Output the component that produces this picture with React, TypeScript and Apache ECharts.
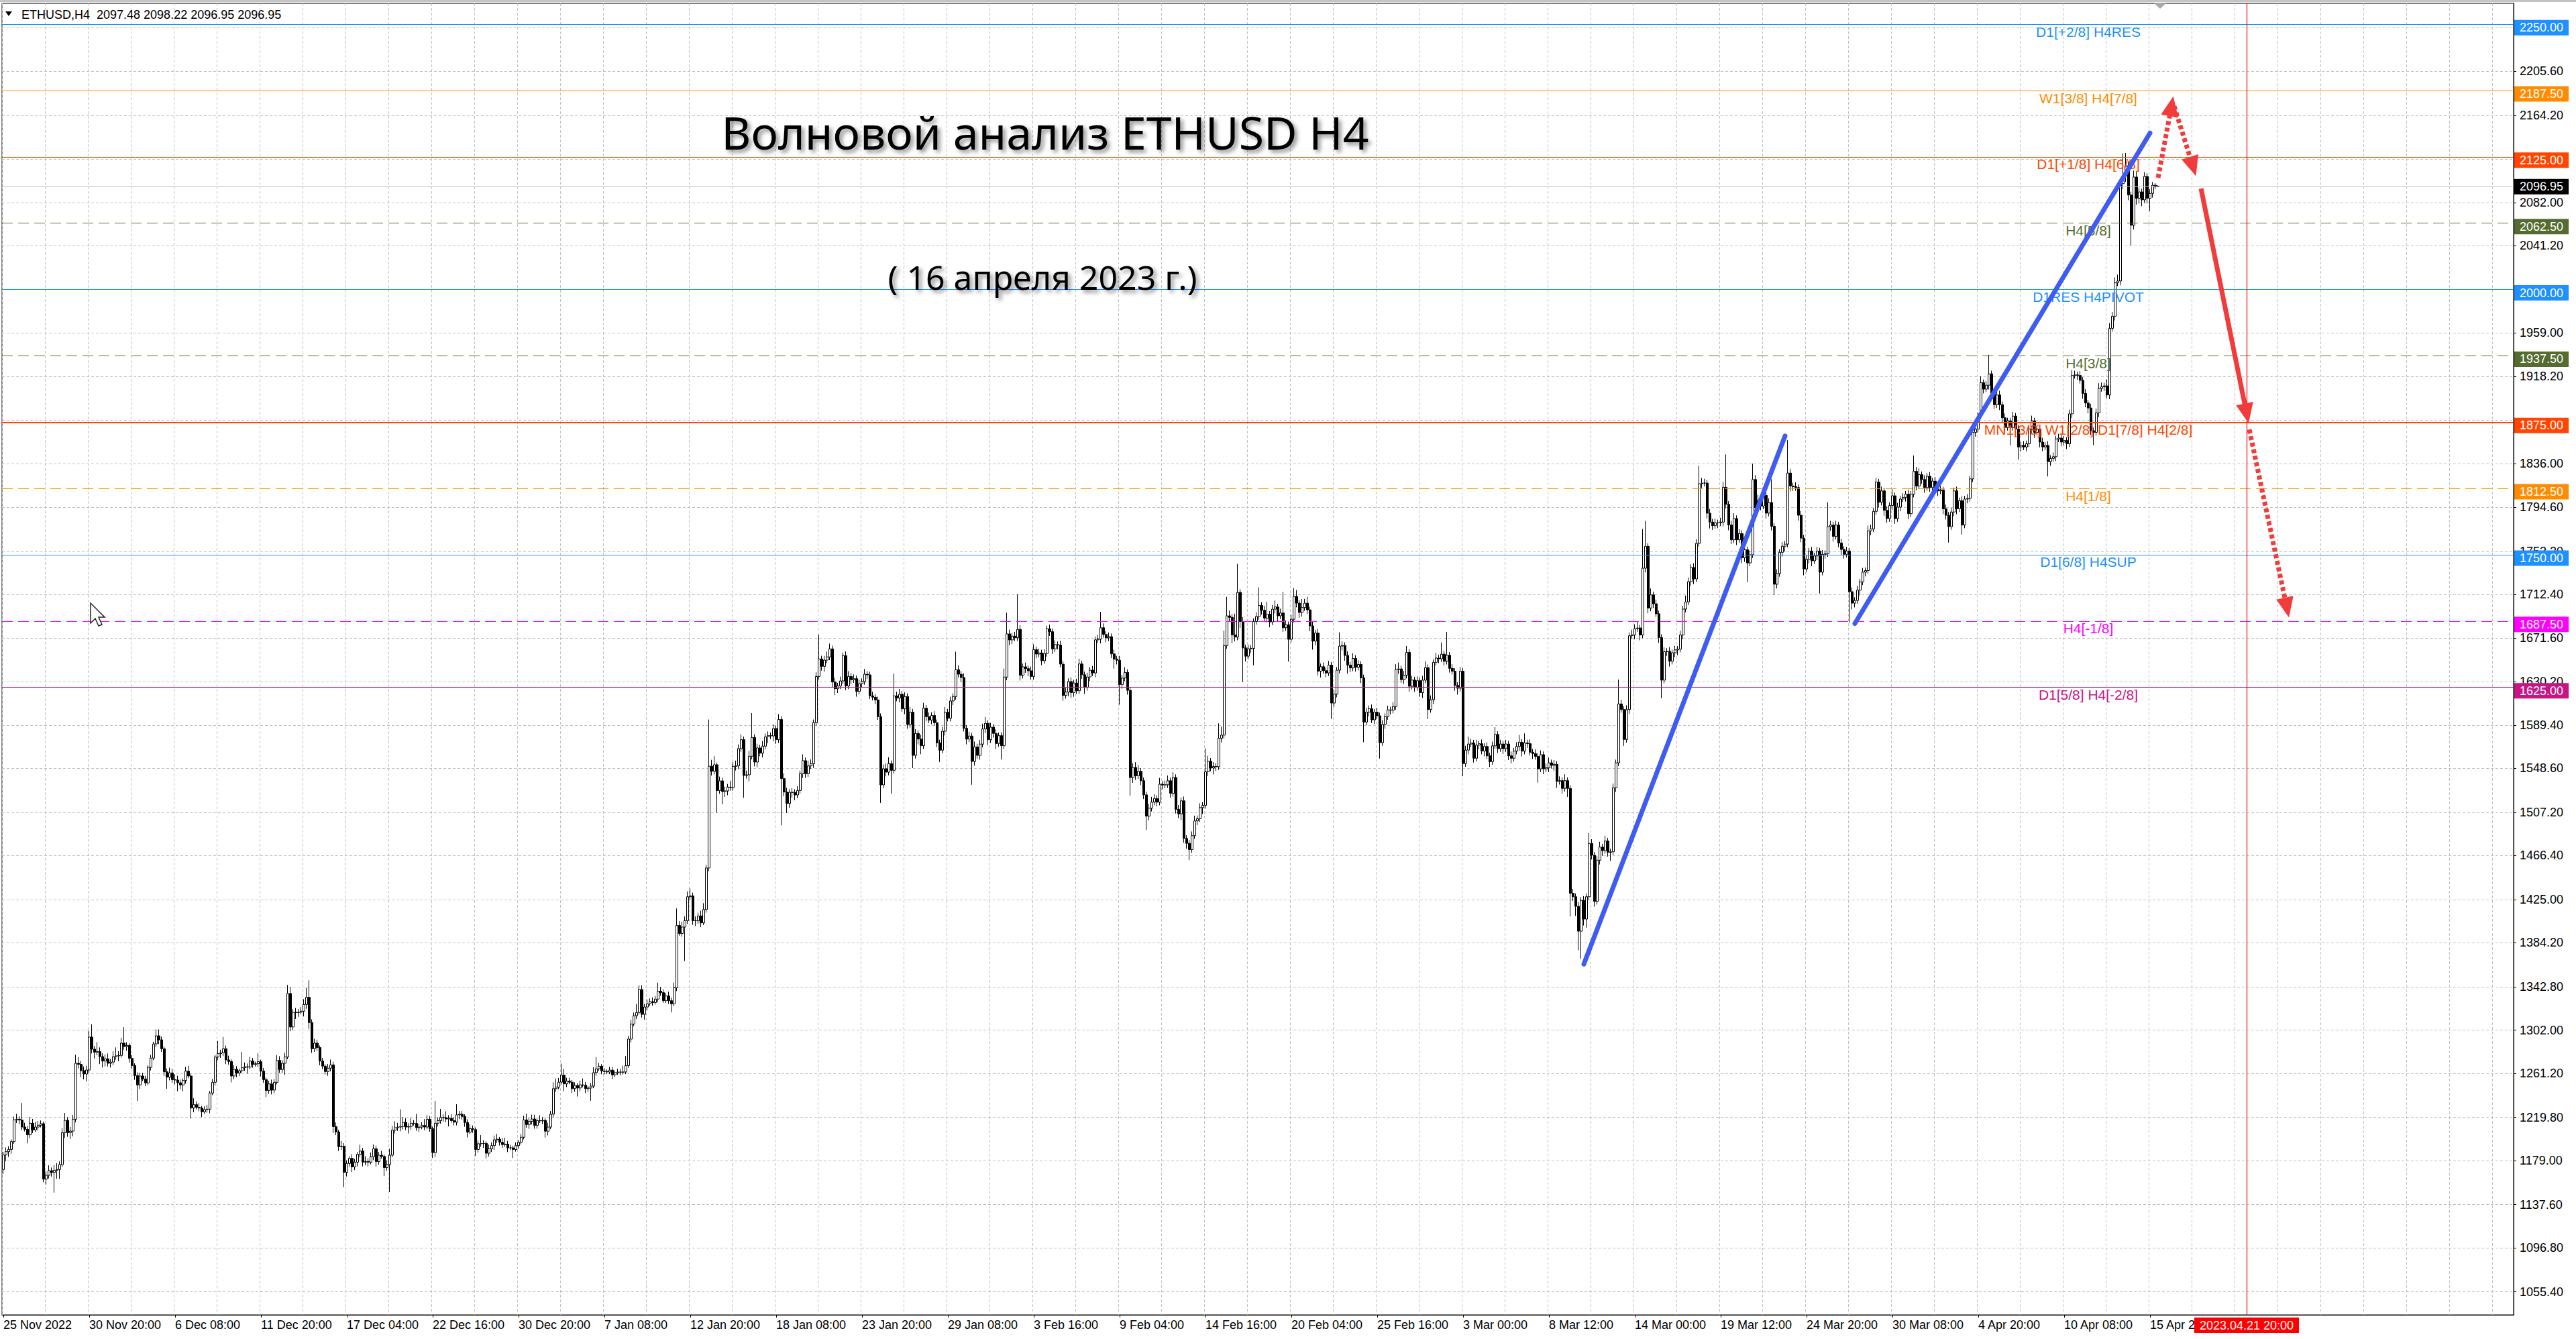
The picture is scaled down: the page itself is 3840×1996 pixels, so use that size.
import React, { useEffect, useRef } from "react";
import * as echarts from "echarts";

const FONT = '"Liberation Sans", Arial, sans-serif';
const TITLE_FONT = '"Noto Sans", "DejaVu Sans", sans-serif';

// ---------- time axis labels (one every 32 H4 bars) ----------
const timeLabels = [
  "25 Nov 2022", "30 Nov 20:00", "6 Dec 08:00", "11 Dec 20:00", "17 Dec 04:00", "22 Dec 16:00",
  "30 Dec 20:00", "7 Jan 08:00", "12 Jan 20:00", "18 Jan 08:00", "23 Jan 20:00", "29 Jan 08:00",
  "3 Feb 16:00", "9 Feb 04:00", "14 Feb 16:00", "20 Feb 04:00", "25 Feb 16:00", "3 Mar 00:00",
  "8 Mar 12:00", "14 Mar 00:00", "19 Mar 12:00", "24 Mar 20:00", "30 Mar 08:00", "4 Apr 20:00",
  "10 Apr 08:00", "15 Apr 20:00",
];
const barsPerLabel = 32;
const futureBars = 132;

// ---------- price ticks on the right scale ----------
const yGridValues = [
  1055.4, 1096.8, 1137.6, 1179.0, 1219.8, 1261.2, 1302.0, 1342.8, 1384.2, 1425.0, 1466.4, 1507.2,
  1548.6, 1589.4, 1630.2, 1671.6, 1712.4, 1753.2, 1794.6, 1836.0, 1877.1, 1918.2, 1959.0, 2000.1,
  2041.2, 2082.0, 2123.1, 2164.2, 2205.6, 2246.7,
];
const yHiddenLabels = [1877.1, 2000.1, 2123.1, 2246.7];
const yMin = 1033.6;
const yMax = 2269.7;

// ---------- ETHUSD H4 candles: [close, upper wick, lower wick]; open = previous close ----------
const firstOpen = 1170.6;
const segA = [
  [1184.3,3,4],[1187.4,4,6],[1189.5,3,5],[1196.9,2,4],[1217.4,3,2],[1218,5,3],[1217.2,3,4],[1210.6,16,3],
  [1208.5,4,2],[1203.3,3,8],[1214.2,6,3],[1207.9,4,3],[1210.6,5,2],[1212.3,4,3],[1213.8,3,2],[1161.5,2,3],
  [1165.1,4,5],[1169.5,5,3],[1167.8,3,4],[1169.9,5,19],[1170.6,6,8],[1175.2,3,9],[1205.4,4,2],[1216.9,7,5],
  [1205.4,3,4],[1206.8,4,6],[1218,4,5],[1270.7,8,3],[1269.7,6,4],[1263.7,3,6],[1260.6,4,5],[1264.4,4,7],
  [1295.4,6,3],[1284,12,4],[1281.2,3,6],[1281.7,9,3],[1277,4,7],[1272.8,3,6],[1274.9,4,5],[1270.7,5,3],
  [1271.8,3,4],[1277,5,3],[1277.7,8,3],[1278.1,4,5],[1289.7,5,2],[1286.5,15,3],[1287.6,3,4],[1275.3,2,4],
  [1268.6,3,3],[1259.1,2,4],[1250.3,3,15],[1258.7,3,4],[1255.9,3,2],[1252.2,3,3],[1266.9,2,2],[1275.6,3,3],
  [1289,2,2],[1296.6,6,3],[1292.8,6,4],[1284.4,3,3],[1262.7,2,4],[1257.6,3,11],[1261.6,5,3],[1255.3,4,3],
  [1254.9,5,4],[1252.4,4,8],[1250.3,3,4],[1254.5,2,6],[1263.3,4,3],[1258.7,5,2],[1228.5,2,10],[1231.7,6,4],
  [1229.2,3,2],[1228.5,4,3],[1225,2,5],[1227.1,3,2],[1227.5,4,3],[1242.7,2,4],[1252.8,3,2],[1276.6,2,3],
  [1279.8,12,3],[1280.5,3,4],[1284.4,11,3],[1273.9,3,4],[1272.4,4,3],[1258.7,2,6],[1265,4,3],[1261.6,3,4],
  [1263.7,2,3],[1266.5,15,2],[1267.5,4,3],[1267.1,3,6],[1272.8,4,2],[1269.6,3,3],[1270.3,2,2],[1272.2,8,3],
  [1263.3,2,5],[1255.3,3,3],[1245,2,6],[1251.3,3,3],[1245.4,4,4],[1252.8,3,3],[1273.4,5,2],[1264.8,4,3],
  [1270.7,3,3],[1276.6,4,11],[1336.5,8,2],[1304.9,6,4],[1318.8,3,3],[1318.5,4,6],[1318.9,3,4],[1319.8,4,2],
  [1326.1,5,5],[1332.9,9,4],[1309.1,16,6],[1284.4,3,4],[1289.7,4,3],[1285.5,3,3],[1272.8,2,4],[1268,3,3],
  [1262.9,2,3],[1266.1,4,4],[1269.2,5,3],[1211,3,6],[1206,4,3],[1192.1,2,4],[1192.5,5,3],[1168,3,14],
];
const segB = [
  [1176.3,3,4],[1181.1,2,3],[1173.1,4,5],[1177.5,3,3],[1185,2,4],[1188,6,3],[1177.5,3,4],[1178.1,5,3],
  [1177.5,3,4],[1182.6,4,2],[1190.1,4,3],[1178.1,3,5],[1184.1,3,3],[1182.9,4,2],[1172.4,2,8],[1175.3,4,3],
  [1184.1,6,26],[1207.6,4,2],[1210,6,3],[1210.6,4,3],[1211.2,16,4],[1215.1,5,3],[1210.6,4,3],[1211.2,3,6],
  [1214.2,5,3],[1214,3,2],[1210,9,3],[1210.6,3,4],[1212.1,3,2],[1210.6,6,3],[1217.9,4,2],[1209.1,3,3],
  [1186.5,2,5],[1214.2,21,4],[1216.7,3,3],[1219.7,8,3],[1219.5,3,4],[1218.2,6,3],[1218.8,3,7],[1216.7,4,2],
  [1215.2,3,3],[1222.1,10,3],[1222.7,3,4],[1220.6,3,3],[1214.9,2,4],[1205.8,3,5],[1209.1,4,2],[1208.2,3,3],
  [1189.5,2,6],[1194.9,3,3],[1195,8,3],[1195.2,3,4],[1185.9,2,5],[1190.1,4,3],[1193.1,3,3],[1198.6,4,4],
  [1199.2,5,3],[1196.2,2,3],[1194.1,4,3],[1194.5,6,2],[1191,3,4],[1191,3,2],[1189.5,2,8],[1193.1,3,2],
  [1196.2,2,3],[1201,3,2],[1217.3,4,2],[1213,6,3],[1216,3,4],[1218.2,4,3],[1212.1,4,3],[1216.7,2,3],
  [1216.4,5,2],[1216.9,3,3],[1206.7,2,6],[1210.6,4,4],[1222.7,3,2],[1246.8,6,3],[1248.3,8,3],[1252.9,4,2],
  [1259.5,11,2],[1251.3,6,7],[1254,3,3],[1252.9,3,2],[1246.8,2,4],[1249.8,3,3],[1247.4,2,8],[1250.4,4,3],
  [1250,6,2],[1246.8,3,4],[1247.4,2,3],[1249.2,3,12],[1261.9,5,2],[1265.5,11,3],[1267.9,3,2],[1263.4,2,3],
  [1263,3,3],[1262.5,2,2],[1264.3,3,2],[1259.8,3,4],[1261.9,2,2],[1262.5,3,2],[1262.3,3,3],[1262.5,6,2],
  [1268.5,9,2],[1293.5,3,2],[1307.7,4,3],[1315.5,3,2],[1318.6,8,3],[1340.3,4,2],[1316.8,4,3],[1323.7,3,5],
  [1326.7,4,3],[1328.8,3,2],[1328,4,3],[1331.2,3,2],[1338.7,8,3],[1337.3,4,3],[1329.7,3,2],[1334.2,3,2],
  [1329.7,4,3],[1326.7,3,8],[1341.8,5,2],[1400.6,16,3],[1393,4,2],[1399.1,5,3],[1405.1,4,32],[1427.7,5,3],
];
const segC = [
  [1428.5,7,3],[1405.1,3,4],[1405,4,5],[1409.6,3,3],[1403,5,4],[1415.6,6,2],[1454.8,3,3],[1550.7,44,3],
  [1545.9,6,4],[1552.1,8,3],[1527.8,2,21],[1536.9,4,3],[1526.8,3,12],[1527.4,4,5],[1531,3,4],[1530.6,6,3],
  [1550.6,4,3],[1551,5,4],[1567.3,4,3],[1575.7,5,3],[1542,3,21],[1542.6,4,3],[1560.1,5,6],[1577.8,23,3],
  [1554.6,3,4],[1567.9,4,5],[1563,3,3],[1569.6,5,4],[1578.4,3,3],[1579.5,4,6],[1579.2,3,3],[1586.2,4,5],
  [1575.7,3,4],[1594.7,5,3],[1539,3,44],[1526.4,5,4],[1515.6,4,9],[1526.1,3,4],[1526,4,5],[1523.6,3,5],
  [1527.8,4,3],[1543.6,3,3],[1555.9,6,4],[1543.6,3,4],[1551,5,3],[1553.1,4,3],[1591.7,3,4],[1635.3,4,3],
  [1651.8,23,3],[1644.8,3,4],[1650.7,4,5],[1653.7,5,3],[1661.3,5,3],[1630.1,3,5],[1623.7,4,6],[1626.3,3,4],
  [1631.1,4,3],[1654.9,3,3],[1626.3,4,4],[1635.3,5,3],[1632.2,3,4],[1633.2,4,3],[1621.2,3,5],[1628.4,4,3],
  [1630.5,3,4],[1637.4,5,3],[1636.8,3,4],[1617,3,3],[1615.7,4,3],[1613.2,3,4],[1597.4,3,3],[1533.1,3,17],
  [1548.3,4,3],[1545.1,5,4],[1553.1,6,3],[1546.8,3,22],[1617,21,3],[1614.9,4,3],[1618.5,5,4],[1604.8,3,3],
  [1616.4,4,5],[1590,3,4],[1601.6,5,3],[1560.9,3,12],[1581.6,4,3],[1576.3,3,5],[1570,4,8],[1605.4,5,3],
  [1597.4,3,4],[1594.2,4,3],[1598.5,3,4],[1591.7,4,3],[1572.7,3,4],[1565.8,3,11],[1583.7,4,3],[1601.6,5,4],
  [1595.9,3,3],[1612.2,4,3],[1616.4,3,4],[1641.6,17,3],[1637.4,4,3],[1634.3,3,4],[1586.4,4,3],[1576.3,3,5],
  [1579.1,4,3],[1555.2,3,22],[1568.9,5,4],[1560.9,3,3],[1571.5,4,4],[1585.8,5,3],[1591.1,6,4],[1575.7,3,5],
  [1587.5,4,3],[1581.6,3,4],[1572.1,4,5],[1579.5,3,3],[1570,3,13],[1634.7,8,3],[1675.4,20,3],[1669.7,4,5],
  [1673.3,3,4],[1671.8,4,3],[1679.6,33,3],[1636.4,4,5],[1644.4,3,3],[1642.7,4,4],[1640.6,3,5],[1635.3,4,3],
];
const segD = [
  [1660.6,5,3],[1656.4,3,4],[1657.5,4,3],[1650.1,3,4],[1657,4,3],[1680.2,3,3],[1677.5,4,4],[1661.3,3,5],
  [1665.3,4,3],[1664.9,3,4],[1646.9,4,3],[1617.4,3,5],[1620.6,4,3],[1630.5,3,4],[1620.1,4,5],[1629.1,3,4],
  [1621.8,4,3],[1647.1,5,3],[1636.9,3,4],[1624.9,3,6],[1634.8,4,3],[1641.2,3,4],[1638.6,4,3],[1669.8,3,4],
  [1670.5,4,3],[1681.2,15,4],[1674.9,4,3],[1671.7,3,4],[1672.8,4,3],[1656.6,3,4],[1651.7,4,9],[1650.6,3,4],
  [1627.7,4,19],[1633.8,3,4],[1639.1,5,3],[1622.2,3,4],[1540,3,17],[1549.5,4,5],[1541.7,5,4],[1545.9,6,3],
  [1537,3,4],[1523.7,3,4],[1503.7,3,13],[1511.1,4,4],[1516.8,5,3],[1520.2,4,3],[1516.8,3,4],[1533.7,6,3],
  [1533,3,4],[1533.2,4,3],[1537,5,3],[1525.2,3,4],[1540,5,3],[1510.1,3,4],[1505.8,4,4],[1518.1,3,6],
  [1482.6,4,4],[1478,3,5],[1472.1,3,10],[1485.2,4,3],[1499.1,5,3],[1501.2,3,4],[1511.7,4,3],[1513.8,3,6],
  [1545.5,22,3],[1555.4,5,4],[1549,3,3],[1550.5,4,6],[1550.2,3,4],[1577.1,14,3],[1580,8,4],[1664.4,14,3],
  [1692.4,18,3],[1691,5,4],[1674.5,3,8],[1672.4,20,4],[1714.5,27,3],[1687.1,3,6],[1662.2,4,32],[1654.4,3,5],
  [1661.4,4,3],[1661.8,3,4],[1687.1,3,16],[1691.8,4,3],[1702.3,17,3],[1697.7,3,4],[1690.3,4,3],[1693.9,12,4],
  [1686.7,3,5],[1698.7,4,3],[1700.8,6,4],[1692.4,3,5],[1695.1,4,3],[1681.2,20,4],[1684,4,3],[1670.3,3,21],
  [1689.2,4,3],[1710.7,8,3],[1704.4,6,4],[1695.6,3,5],[1700.2,8,4],[1704.4,4,3],[1698.1,6,4],[1682.9,3,5],
  [1668.6,4,8],[1676.2,3,4],[1640.3,4,4],[1644.5,3,6],[1640.7,4,3],[1638.6,3,4],[1646,4,3],[1610.2,3,15],
  [1618.6,4,4],[1641.2,3,3],[1663.9,13,3],[1664.5,4,4],[1655.1,3,5],[1646,4,8],[1643.3,3,4],[1652.3,5,3],
  [1643.9,3,4],[1646.6,4,3],[1634,3,5],[1592.3,3,19],[1601.7,4,3],[1604.9,3,4],[1594.4,4,3],[1601.7,3,4],
];
const segE = [
  [1598.2,4,3],[1572.9,3,15],[1590.1,4,3],[1597.5,3,4],[1603.8,4,3],[1603.5,3,4],[1607,4,3],[1641.8,5,3],
  [1642.4,6,4],[1632.3,3,3],[1636.5,4,4],[1658,6,3],[1626,3,5],[1631.9,4,3],[1624.9,3,4],[1631.3,4,3],
  [1620.1,3,4],[1631.8,4,5],[1643.6,6,3],[1604.1,3,9],[1613.4,4,3],[1648.6,3,4],[1652.6,5,3],[1651.9,3,4],
  [1656.3,11,3],[1649.6,3,4],[1655.3,22,3],[1642.9,3,4],[1640.2,4,3],[1626.8,3,5],[1624.2,3,6],[1640.2,4,3],
  [1553.2,3,12],[1565.9,4,3],[1571.6,7,4],[1572.6,4,3],[1558.2,3,4],[1570.6,5,3],[1571.9,3,4],[1565,4,3],
  [1569.3,3,5],[1560.5,4,3],[1555,3,5],[1569.9,4,3],[1580.6,7,3],[1567.2,3,4],[1571.6,4,3],[1567.2,3,5],
  [1571.6,4,3],[1560.5,3,4],[1558.2,4,5],[1564.9,3,3],[1569.3,4,3],[1573.3,7,4],[1564.9,3,5],[1572.6,9,3],
  [1572,3,4],[1563.9,4,3],[1562.6,3,5],[1559.9,4,3],[1548.2,3,13],[1561.6,4,3],[1548.2,3,5],[1549.2,4,3],
  [1553.9,5,4],[1551.5,3,3],[1552.5,4,5],[1536.4,3,6],[1537.1,4,3],[1529.8,3,5],[1537.1,6,3],[1529.8,3,8],
  [1431,3,22],[1427.7,4,4],[1418.6,3,9],[1395.2,4,18],[1424.3,3,26],[1406.6,4,6],[1427.7,3,8],[1477.9,10,3],
  [1466.8,4,4],[1423.3,3,5],[1462.1,4,3],[1474.5,5,4],[1471.2,3,5],[1480.2,5,3],[1469.5,3,4],[1470,3,8],
  [1530.4,4,3],[1553.9,3,4],[1609.4,23,3],[1604.1,4,3],[1575.9,3,6],[1604.1,4,3],[1673.7,3,4],[1674.4,5,3],
  [1680.4,4,4],[1681,6,3],[1674.4,3,5],[1737.3,37,3],[1758,24,4],[1699.8,3,5],[1712.2,6,3],[1703.8,3,4],
  [1694.4,4,3],[1672,3,5],[1631.8,3,17],[1658.6,4,3],[1659,3,4],[1649.6,4,5],[1657.6,3,3],[1660.3,4,4],
  [1661,3,5],[1674.4,4,3],[1698.8,3,4],[1705.5,6,3],[1724.6,4,3],[1738,3,4],[1727.2,4,5],[1760.7,4,3],
  [1816.9,17,3],[1817.5,5,4],[1817.6,4,3],[1789.2,3,5],[1780.8,4,6],[1777.4,3,4],[1780.1,4,3],[1780,3,5],
];
const segF = [
  [1780.8,4,3],[1813.6,5,4],[1797.5,31,4],[1778.1,3,5],[1764.1,4,4],[1784.1,5,3],[1764.1,3,5],[1770,4,3],
  [1747.3,3,5],[1754.7,4,4],[1742.3,3,18],[1750,4,3],[1820.9,15,3],[1794.2,4,5],[1801.5,5,3],[1795.9,3,4],
  [1805.9,4,3],[1789.2,3,5],[1799.2,4,3],[1776.8,22,4],[1722.2,3,10],[1732.3,4,4],[1752.3,3,3],[1758,4,4],
  [1760,3,5],[1827,31,3],[1814.8,4,5],[1814.2,3,4],[1813.3,4,3],[1787.2,3,5],[1765.7,4,4],[1736.6,3,6],
  [1745.8,4,3],[1753.5,3,4],[1744.3,4,5],[1748.9,3,3],[1753.5,4,4],[1733.6,3,20],[1750.4,4,3],[1751,3,4],
  [1776.5,23,3],[1778,4,4],[1767.3,3,5],[1778,4,3],[1761.1,3,4],[1755,4,5],[1750.4,3,4],[1753.5,4,3],
  [1715.2,3,29],[1704.4,4,6],[1706.9,3,4],[1716.7,4,3],[1724.4,3,5],[1733.6,4,3],[1735.1,3,4],[1772.5,5,3],
  [1774.3,4,4],[1790.9,3,3],[1818.5,4,3],[1799.5,3,5],[1810.2,4,3],[1791.8,3,5],[1784.1,4,4],[1796.4,3,3],
  [1805.6,6,4],[1784.1,3,5],[1794.9,4,3],[1802.5,3,4],[1804.1,4,3],[1807.1,3,4],[1788.7,4,5],[1807.1,3,3],
  [1828.6,15,3],[1814.8,4,4],[1825.5,6,3],[1820.9,3,4],[1813.3,4,5],[1824,3,3],[1813.3,4,4],[1819.4,3,3],
  [1811.7,4,4],[1810.2,3,5],[1811.1,4,3],[1793.3,3,5],[1787.2,4,4],[1776.5,3,15],[1790.3,4,3],[1810.2,3,4],
  [1793.3,4,5],[1801,3,3],[1778,4,9],[1802.5,3,3],[1803.1,4,4],[1821.5,3,3],[1865.3,4,3],[1868.4,5,4],
  [1880.7,3,3],[1912.2,6,3],[1906.1,3,4],[1909.8,4,3],[1920.5,18,4],[1902.1,3,5],[1891.4,4,4],[1900.6,3,3],
  [1891.4,4,5],[1879.1,3,4],[1870,4,5],[1876.1,3,3],[1870,3,17],[1880.7,4,3],[1868.4,3,5],[1851.6,4,12],
  [1853.1,3,4],[1851.6,4,3],[1854.6,3,4],[1868.4,4,3],[1876.1,5,4],[1865.3,3,5],[1868.4,4,3],[1856.2,3,5],
  [1851.6,4,4],[1853.1,3,3],[1837.8,4,14],[1840.8,3,4],[1842.4,4,3],[1859.2,3,4],[1860,4,3],[1856.2,3,4],
];
const segG = [
  [1857.7,4,3],[1854.6,3,5],[1882.8,4,3],[1919,5,4],[1919.5,4,3],[1919,3,4],[1914.4,4,3],[1902.1,3,5],
  [1893,4,4],[1888.3,3,5],[1866.9,4,4],[1865.3,3,12],[1883.7,4,3],[1906.7,5,4],[1908.3,4,3],[1909.2,3,4],
  [1900.6,6,3],[1963.4,5,4],[1974.8,4,3],[2006.3,5,4],[2008,6,3],[2099.8,5,4],[2107.5,21,5],[2116.7,12,6],
  [2089.1,4,5],[2060.6,3,19],[2106,6,4],[2086,5,6],[2092,4,5],[2084.5,3,6],[2106.6,4,3],[2086,3,5],
  [2090.6,4,12],[2098.3,3,4],[2097.48,2,3],[2096.95,0.74,0],
];

// ---------- Murrey-math levels ----------
const levelPrices = [2250, 2187.5, 2125, 2062.5, 2000, 1937.5, 1875, 1812.5, 1750, 1687.5, 1625];
const levelNames = [
  "D1[+2/8] H4RES", "W1[3/8] H4[7/8]", "D1[+1/8] H4[6/8]", "H4[5/8]", "D1RES H4PIVOT", "H4[3/8]",
  "MN1[3/8] W1[2/8] D1[7/8] H4[2/8]", "H4[1/8]", "D1[6/8] H4SUP", "H4[-1/8]", "D1[5/8] H4[-2/8]",
];
const levelColors = [
  "#1e90ff", "#ff8c00", "#ff4500", "#556b2f", "#1e90ff", "#556b2f",
  "#ff4500", "#ff8c00", "#1e90ff", "#ff00ff", "#c71585",
];
const levelDashed = [false, false, false, true, false, true, false, true, false, true, false];
const levelHeavy = [false, false, false, false, false, false, true, false, false, false, false];
const levelLabelBar = 777;

// ---------- drawn objects (bar index, price) ----------
const trendLines = [
  [[589, 1364.1], [664, 1862.0]],
  [[690, 1685.2], [800, 2147.5]],
];
const forecastArrows = [
  { from: [803, 2105.3], to: [808, 2172.8], dotted: true },
  { from: [809, 2172.7], to: [816, 2115.9], dotted: true },
  { from: [819, 2095.2], to: [836, 1883.2], dotted: false },
  { from: [837, 1868.0], to: [851, 1700.2], dotted: true },
];
const markerBar = 836;
const markerText = "2023.04.21 20:00";
const symbolName = "ETHUSD,H4";
const titleText = "Волновой анализ ETHUSD H4";
const subtitleText = "( 16 апреля 2023 г.)";

export default function App() {
  const ref = useRef<HTMLDivElement>(null);

  useEffect(() => {
    if (!ref.current) return;
    const chart = echarts.init(ref.current, undefined, { renderer: "svg" });

    const rows = [...segA, ...segB, ...segC, ...segD, ...segE, ...segF, ...segG];
    const candles: number[][] = [];
    let prev = firstOpen;
    for (const [c, u, d] of rows) {
      const o = prev;
      const hi = +(Math.max(o, c) + u).toFixed(2);
      const lo = +(Math.min(o, c) - d).toFixed(2);
      candles.push([o, c, lo, hi]);
      prev = c;
    }
    const last = candles[candles.length - 1];
    const lastClose = last[1];
    const total = candles.length + futureBars;
    const isLabelIdx = (i: number) => i % barsPerLabel === 0 && i / barsPerLabel < timeLabels.length;
    const categories = Array.from({ length: total }, (_, i) =>
      isLabelIdx(i) ? timeLabels[i / barsPerLabel] : "b" + i
    );
    const yLabelValues = yGridValues.filter((v) => yHiddenLabels.indexOf(v) < 0);

    const GRID = "#c0c0c0";

    const boxLabel = (text: string, bg: string, dy: number) => ({
      show: true,
      position: "end",
      distance: 1,
      offset: [0, dy],
      formatter: text,
      color: "#ffffff",
      backgroundColor: bg,
      padding: [3, 8, 2, 8],
      fontSize: 18,
      fontFamily: FONT,
    });

    const levelLines: any[] = levelPrices.map((p, i) => ({
      yAxis: p,
      lineStyle: {
        color: levelColors[i],
        width: levelHeavy[i] ? 2.2 : 1.2,
        type: levelDashed[i] ? [16, 8] : "solid",
      },
      label: boxLabel(p.toFixed(2), levelColors[i], 5),
    }));
    levelLines.push({
      yAxis: lastClose,
      lineStyle: { color: "#c0c0c0", width: 1.2, type: "solid" },
      label: boxLabel(lastClose.toFixed(2), "#000000", 0),
    });
    levelLines.push({
      xAxis: markerBar,
      lineStyle: { color: "#ff0000", width: 1.2, type: "solid" },
      label: {
        show: true,
        position: "start",
        distance: 4,
        formatter: markerText,
        color: "#ffffff",
        backgroundColor: "#ff0000",
        padding: [3, 8, 2, 8],
        fontSize: 18,
        fontFamily: FONT,
      },
    });

    const levelTexts = levelPrices.map((p, i) => ({
      coord: [levelLabelBar, p],
      label: {
        show: true,
        position: "bottom",
        distance: 0,
        formatter: levelNames[i],
        color: levelColors[i],
        fontSize: 21,
        fontFamily: FONT,
      },
    }));

    const arrowData = forecastArrows.map((a) => {
      const ls = {
        color: "#f23b3b",
        width: 7,
        type: a.dotted ? [6, 4] : "solid",
        cap: "butt",
      };
      return [
        { coord: a.from, symbol: "none", lineStyle: ls },
        { coord: a.to, symbol: "triangle", symbolSize: [26, 30], lineStyle: ls },
      ];
    });

    const header = `${symbolName}  ${last[0].toFixed(2)} ${last[3].toFixed(2)} ${last[2].toFixed(2)} ${last[1].toFixed(2)}`;

    const option: any = {
      animation: false,
      backgroundColor: "#ffffff",
      grid: {
        left: 3,
        right: 93,
        top: 5,
        bottom: 36,
        show: true,
        borderColor: "#000000",
        borderWidth: 1,
        backgroundColor: "#ffffff",
      },
      xAxis: {
        type: "category",
        data: categories,
        boundaryGap: true,
        axisLine: { show: true, lineStyle: { color: "#000000", width: 1 } },
        axisTick: {
          show: true,
          alignWithLabel: true,
          length: 4,
          interval: (i: number) => isLabelIdx(i),
          lineStyle: { color: "#000000" },
        },
        axisLabel: {
          show: true,
          interval: (i: number) => isLabelIdx(i),
          align: "left",
          margin: 6,
          color: "#000000",
          fontSize: 18,
          fontFamily: FONT,
        },
        splitLine: {
          show: true,
          interval: (i: number) => i % 16 === 0,
          lineStyle: { color: GRID, width: 1, type: [4, 3] },
        },
      },
      yAxis: {
        type: "value",
        position: "right",
        min: yMin,
        max: yMax,
        scale: true,
        axisLine: { show: true, lineStyle: { color: "#000000", width: 1 } },
        axisTick: {
          show: true,
          length: 4,
          customValues: yGridValues,
          lineStyle: { color: "#000000" },
        },
        axisLabel: {
          show: true,
          customValues: yLabelValues,
          formatter: (v: number) => v.toFixed(2),
          margin: 9,
          color: "#000000",
          fontSize: 18,
          fontFamily: FONT,
        },
        splitLine: {
          show: true,
          lineStyle: { color: GRID, width: 1, type: [4, 3] },
        },
      },
      series: [
        {
          name: "ETHUSD",
          type: "candlestick",
          data: candles,
          large: false,
          barWidth: 3,
          silent: true,
          z: 2,
          itemStyle: {
            color: "#ffffff",
            color0: "#000000",
            borderColor: "#000000",
            borderColor0: "#000000",
            borderColorDoji: "#000000",
            borderWidth: 1,
          },
          markLine: {
            silent: true,
            animation: false,
            symbol: ["none", "none"],
            data: levelLines,
          },
          markPoint: {
            silent: true,
            animation: false,
            symbol: "circle",
            symbolSize: 1,
            itemStyle: { color: "rgba(0,0,0,0)" },
            data: levelTexts,
          },
        },
        {
          name: "wave1",
          type: "line",
          data: trendLines[0],
          symbol: "none",
          silent: true,
          z: 5,
          lineStyle: { color: "#3f5cf2", width: 7, cap: "round" },
        },
        {
          name: "wave2",
          type: "line",
          data: trendLines[1],
          symbol: "none",
          silent: true,
          z: 6,
          lineStyle: { color: "#3f5cf2", width: 7, cap: "round" },
          markLine: {
            silent: true,
            animation: false,
            label: { show: false },
            data: arrowData,
          },
        },
      ],
      graphic: [
        {
          type: "rect",
          z: 100,
          shape: { x: 0, y: 0, width: 3840, height: 3 },
          style: { fill: "#c4c4c4" },
        },
        {
          type: "polygon",
          z: 100,
          shape: { points: [[8, 17], [18, 17], [13, 24]] },
          style: { fill: "#000000" },
        },
        {
          type: "text",
          z: 100,
          x: 32,
          y: 22,
          style: {
            text: header,
            fill: "#000000",
            fontSize: 18,
            fontFamily: FONT,
            align: "left",
            verticalAlign: "middle",
            textAlign: "left",
            textVerticalAlign: "middle",
          },
        },
        {
          type: "polygon",
          z: 100,
          shape: { points: [[3210, 4], [3230, 4], [3220, 13]] },
          style: { fill: "#a8a8a8" },
        },
        {
          type: "text",
          z: 100,
          x: 1558,
          y: 196,
          style: {
            text: titleText,
            fill: "#000000",
            fontSize: 68,
            fontFamily: TITLE_FONT,
            align: "center",
            verticalAlign: "middle",
            textAlign: "center",
            textVerticalAlign: "middle",
            textShadowColor: "rgba(0,0,0,0.45)",
            textShadowBlur: 6,
            textShadowOffsetX: 4,
            textShadowOffsetY: 4,
          },
        },
        {
          type: "text",
          z: 100,
          x: 1554,
          y: 413,
          style: {
            text: subtitleText,
            fill: "#000000",
            fontSize: 50,
            fontFamily: TITLE_FONT,
            align: "center",
            verticalAlign: "middle",
            textAlign: "center",
            textVerticalAlign: "middle",
            textShadowColor: "rgba(0,0,0,0.45)",
            textShadowBlur: 6,
            textShadowOffsetX: 4,
            textShadowOffsetY: 4,
          },
        },
        {
          type: "polygon",
          z: 200,
          x: 135,
          y: 899,
          shape: { points: [[0, 0], [0, 30], [7, 23], [12, 34], [17, 32], [12, 21], [21, 21]] },
          style: { fill: "#ffffff", stroke: "#222222", lineWidth: 1.5 },
        },
      ],
    };

    chart.setOption(option);
    return () => {
      chart.dispose();
    };
  }, []);

  return (
    <div
      ref={ref}
      style={{ position: "fixed", left: 0, top: 0, width: "3840px", height: "1996px", background: "#ffffff" }}
    />
  );
}
